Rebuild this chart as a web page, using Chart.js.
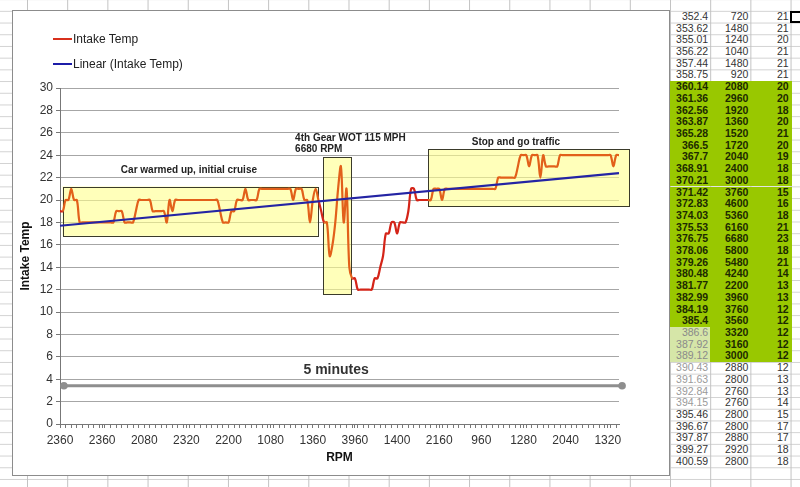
<!DOCTYPE html>
<html>
<head>
<meta charset="utf-8">
<script src="https://cdn.jsdelivr.net/npm/chart.js"></script>
<style>
html, body { margin: 0; padding: 0; }
body {
    width: 800px; height: 487px; position: relative; overflow: hidden; background: #fff;
    font-family: "Liberation Sans Narrow", "Arial Narrow", Arial, sans-serif;
}
#grid {
    position: absolute; left: 0; top: 0; width: 800px; height: 487px;
    background-image: linear-gradient(to right, #c2c2c2 1px, transparent 1px),
                      linear-gradient(to bottom, #d2d2d2 1px, transparent 1px);
    background-size: 40.2px 100%, 100% 11.71px;
    background-position: 27px 0, 0 10.85px;
}
#frame {
    position: absolute; left: 12px; top: 10px; width: 656px; height: 464px;
    border: 1px solid #8c8c8c; background: #fff;
}
#chart { position: absolute; left: 0; top: 0; }
.leg { position: absolute; left: 53px; height: 12px; font-size: 12px; color: #222; display: flex; align-items: center; white-space: nowrap; }
.sw { width: 19px; height: 2.5px; margin-right: 1px; }
.cell { position: absolute; height: 11.71px; line-height: 11.71px; font-size: 10.5px; text-align: right; color: #333; box-sizing: border-box; padding-right: 3px; }
#active { position: absolute; left: 790px; top: 11px; width: 12px; height: 12px; border: 2px solid #000; box-sizing: border-box; }
</style>
</head>
<body>
<div id="grid"></div>
<div id="frame"><canvas id="chart" width="656" height="464"></canvas></div>
<div class="leg" style="top:33px"><span class="sw" style="background:#d8301c"></span>Intake Temp</div>
<div class="leg" style="top:58px"><span class="sw" style="background:#1c1ca8"></span>Linear (Intake Temp)</div>
<div id="sheet"></div>
<div id="active"></div>
<script>
// intake temp, one value per logged sample
const intakeTemp = [
    19, 19, 20, 20, 21, 20, 20, 18, 18, 18,
    18, 18, 18, 18, 18, 18, 18, 18, 18, 18,
    19, 19, 19, 18, 18, 18, 18, 19, 20, 20,
    20, 20, 20, 19, 19, 19, 19, 19, 18, 20,
    19, 20, 20, 20, 20, 20, 20, 20, 20, 20,
    20, 20, 20, 20, 20, 20, 20, 19, 18, 18,
    18, 19, 19, 20, 20, 20, 21, 20, 20, 20,
    20, 21, 21, 21, 21, 21, 21, 21, 21, 21,
    21, 21, 21, 20, 21, 21, 21, 20, 20, 18,
    20, 21, 20, 19, 18, 18, 15, 16, 18, 21,
    23, 18, 21, 14, 13, 13, 12, 12, 12, 12,
    12, 12, 13, 13, 14, 15, 17, 17, 18, 18,
    17, 18, 18, 18, 19, 21, 21, 20, 20, 20,
    20, 20, 20, 21, 21, 21, 20, 21, 21, 21,
    21, 21, 21, 21, 21, 21, 21, 21, 21, 21,
    21, 21, 21, 21, 21, 21, 22, 22, 22, 22,
    22, 22, 22, 23, 24, 24, 24, 23, 24, 24,
    24, 22, 24, 23, 23, 23, 23, 23, 24, 24,
    24, 24, 24, 24, 24, 24, 24, 24, 24, 24,
    24, 24, 24, 24, 24, 24, 24, 23, 24, 24
];
const sampleNo = intakeTemp.map((v, i) => i);
// x axis shows the RPM of every 15th sample
const rpmTicks = ['2360', '2360', '2080', '2320', '2200', '1080', '1360', '3960', '1400', '2160', '960', '1280', '2040', '1320'];
const labelEvery = 15;
// linear trend line, read at first and last sample
const trendStart = 17.7;
const trendEnd = 22.4;

// spreadsheet columns next to the chart
const sheetTime = ['352.4', '353.62', '355.01', '356.22', '357.44', '358.75', '360.14', '361.36', '362.56', '363.87',
    '365.28', '366.5', '367.7', '368.91', '370.21', '371.42', '372.83', '374.03', '375.53', '376.75',
    '378.06', '379.26', '380.48', '381.77', '382.99', '384.19', '385.4', '386.6', '387.92', '389.12',
    '390.43', '391.63', '392.84', '394.15', '395.46', '396.67', '397.87', '399.27', '400.59'];
const sheetRpm = [720, 1480, 1240, 1040, 1480, 920, 2080, 2960, 1920, 1360,
    1520, 1720, 2040, 2400, 3000, 3760, 4600, 5360, 6160, 6680,
    5800, 5480, 4240, 2200, 3960, 3760, 3560, 3320, 3160, 3000,
    2880, 2800, 2760, 2760, 2800, 2800, 2880, 2920, 2800];
const sheetTemp = [21, 21, 20, 21, 21, 21, 20, 20, 18, 20,
    21, 20, 19, 18, 18, 15, 16, 18, 21, 23,
    18, 21, 14, 13, 13, 12, 12, 12, 12, 12,
    12, 13, 13, 14, 15, 17, 17, 18, 18];

// annotation boxes, in sample / degree units
const boxes = [
    { x0: 0.9, x1: 91.7, y0: 16.8, y1: 21.2 },
    { x0: 93.7, x1: 103.8, y0: 11.6, y1: 23.8 },
    { x0: 131.1, x1: 202.6, y0: 19.46, y1: 24.53 }
];
const notes = [
    { text: 'Car warmed up, initial cruise', x: 45.9, y: 22.7, align: 'center' },
    { text: '4th Gear WOT 115 MPH', x: 83.7, y: 25.5, align: 'left' },
    { text: '6680 RPM', x: 83.7, y: 24.5, align: 'left' },
    { text: 'Stop and go traffic', x: 162.3, y: 25.2, align: 'center' }
];
const span = { x0: 1.4, x1: 200.1, y: 3.42, text: '5 minutes', textX: 98.3, textY: 4.8 };

// build the sheet
const sheet = document.getElementById('sheet');
for (let i = 0; i < sheetTime.length; i++) {
    let row = [sheetTime[i], sheetRpm[i], sheetTemp[i]];
    for (let c = 0; c < 3; c++) {
        let d = document.createElement('div');
        d.className = 'cell';
        d.style.left = (670 + c * 40.2) + 'px';
        d.style.top = (10.85 + i * 11.71) + 'px';
        d.style.width = '41.2px';
        d.textContent = row[c];
        if (i >= 6 && i <= 29) {
            d.style.background = '#99c800';
            d.style.fontWeight = 'bold';
            d.style.color = '#1c2a00';
            if (c == 0 && i >= 27) {
                d.style.background = '#d6e6a8';
                d.style.fontWeight = 'normal';
                d.style.color = '#8a8a8a';
            }
        } else if (c == 0 && i >= 30 && i <= 33) {
            d.style.color = '#9a9a9a';
        }
        sheet.appendChild(d);
    }
}

let trend = intakeTemp.map(() => null);
trend[0] = trendStart;
trend[trend.length - 1] = trendEnd;

function inBox(a, b) {
    let m = (a + b) / 2;
    for (let i = 0; i < boxes.length; i++) {
        if (m >= boxes[i].x0 && m <= boxes[i].x1) return true;
    }
    return false;
}

const fontFam = '"Liberation Sans Narrow", "Arial Narrow", Arial, sans-serif';
Chart.defaults.font.family = fontFam;

const notesPlugin = {
    id: 'notes',
    beforeDatasetsDraw(chart) {
        let ctx = chart.ctx, xs = chart.scales.x, ys = chart.scales.y;
        ctx.save();
        boxes.forEach(b => {
            let l = xs.getPixelForValue(b.x0), r = xs.getPixelForValue(b.x1);
            let t = ys.getPixelForValue(b.y1), btm = ys.getPixelForValue(b.y0);
            ctx.fillStyle = 'rgba(255,255,140,0.6)';
            ctx.fillRect(l, t, r - l, btm - t);
            ctx.strokeStyle = '#3a3a2a';
            ctx.lineWidth = 1;
            ctx.strokeRect(Math.round(l) + 0.5, Math.round(t) + 0.5, Math.round(r - l), Math.round(btm - t));
        });
        ctx.restore();
    },
    afterDatasetsDraw(chart) {
        let ctx = chart.ctx, xs = chart.scales.x, ys = chart.scales.y;
        ctx.save();
        ctx.fillStyle = '#222';
        ctx.font = 'bold 10px ' + fontFam;
        ctx.textBaseline = 'middle';
        notes.forEach(n => {
            ctx.textAlign = n.align;
            ctx.fillText(n.text, xs.getPixelForValue(n.x), ys.getPixelForValue(n.y));
        });
        // 5 minutes bar
        let a = xs.getPixelForValue(span.x0), b = xs.getPixelForValue(span.x1), y = ys.getPixelForValue(span.y);
        ctx.strokeStyle = '#8e8e8e';
        ctx.fillStyle = '#8e8e8e';
        ctx.lineWidth = 3;
        ctx.beginPath();
        ctx.moveTo(a, y);
        ctx.lineTo(b, y);
        ctx.stroke();
        [a, b].forEach(px => {
            ctx.beginPath();
            ctx.arc(px, y, 3.8, 0, Math.PI * 2);
            ctx.fill();
        });
        ctx.fillStyle = '#333';
        ctx.font = 'bold 14px ' + fontFam;
        ctx.textAlign = 'center';
        ctx.fillText(span.text, xs.getPixelForValue(span.textX), ys.getPixelForValue(span.textY));
        ctx.restore();
    }
};

new Chart(document.getElementById('chart'), {
    type: 'line',
    data: {
        labels: sampleNo,
        datasets: [{
            label: 'Linear (Intake Temp)',
            data: trend,
            borderColor: '#2424a4',
            borderWidth: 2.2,
            pointRadius: 0,
            spanGaps: true,
            tension: 0,
            order: 0
        }, {
            label: 'Intake Temp',
            data: intakeTemp,
            borderColor: '#d42418',
            borderWidth: 2.2,
            pointRadius: 0,
            tension: 0.35,
            order: 1,
            segment: {
                borderColor: c => inBox(c.p0DataIndex, c.p1DataIndex) ? '#e2601a' : '#d42418'
            }
        }]
    },
    options: {
        responsive: false,
        animation: false,
        layout: { padding: { left: 0, top: 77, right: 50, bottom: 0 } },
        plugins: { legend: { display: false }, tooltip: { enabled: false } },
        scales: {
            x: {
                type: 'category',
                offset: false,
                afterFit: s => { s.height = 51; },
                grid: {
                    display: true,
                    drawOnChartArea: false,
                    tickLength: 4,
                    tickColor: c => (c.index % 2 === 0 || c.index % labelEvery === 0) ? '#777' : 'rgba(0,0,0,0)'
                },
                border: { color: '#777' },
                ticks: {
                    autoSkip: false,
                    maxRotation: 0,
                    minRotation: 0,
                    padding: 5,
                    color: '#333',
                    font: { size: 12 },
                    callback: (v, i) => i % labelEvery === 0 ? rpmTicks[i / labelEvery] : ''
                },
                title: {
                    display: true,
                    text: 'RPM',
                    color: '#111',
                    font: { size: 12, weight: 'bold' },
                    padding: { top: 0, bottom: 10 }
                }
            },
            y: {
                min: 0,
                max: 30,
                afterFit: s => { s.width = 47; },
                grid: { color: '#a6a6a6', tickLength: 4, tickColor: '#777' },
                border: { color: '#777' },
                ticks: { stepSize: 2, padding: 3, color: '#333', font: { size: 12 } },
                title: {
                    display: true,
                    text: 'Intake Temp',
                    color: '#111',
                    font: { size: 12, weight: 'bold' },
                    padding: { top: 5, bottom: 0 }
                }
            }
        }
    },
    plugins: [notesPlugin]
});
</script>
</body>
</html>
